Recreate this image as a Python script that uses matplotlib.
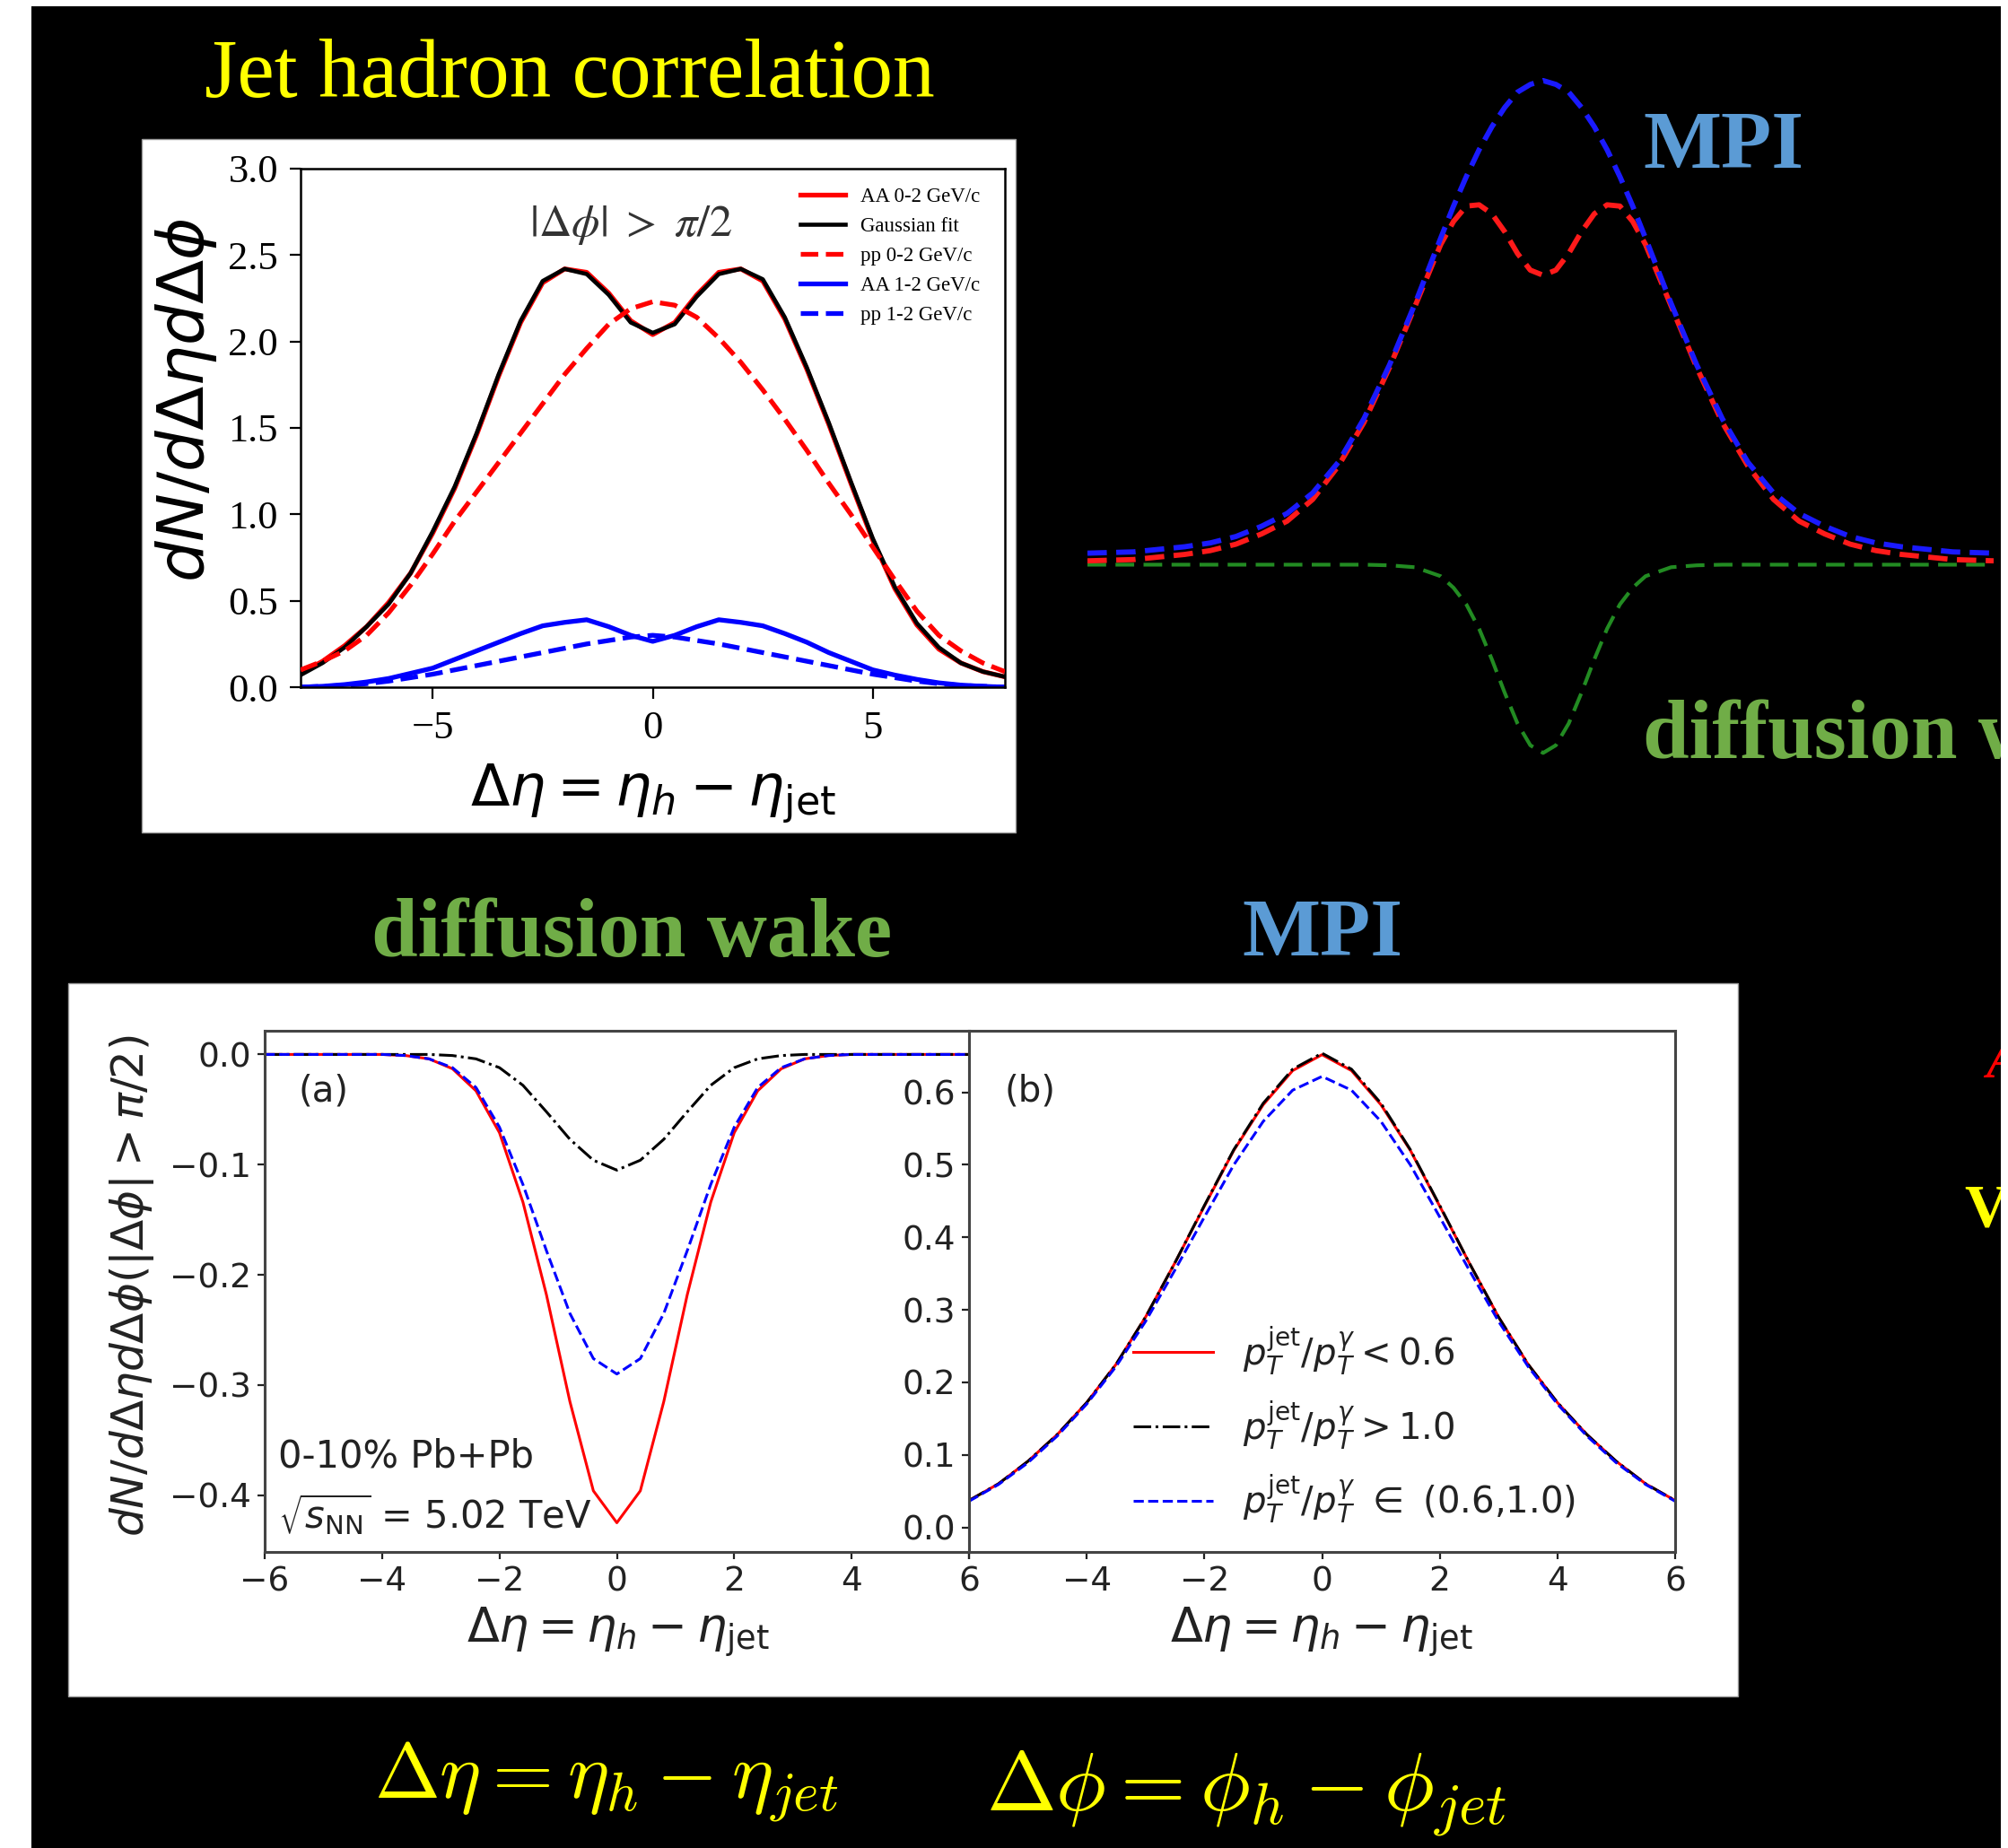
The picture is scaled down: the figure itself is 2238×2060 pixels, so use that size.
import matplotlib
matplotlib.use('Agg')
import matplotlib.pyplot as plt
from matplotlib.patches import Rectangle
from matplotlib.ticker import FuncFormatter

# ---------------- data ----------------
# top-left panel: jet-hadron correlation, |dphi| > pi/2
eta_top = [-8, -7.5, -7, -6.5, -6, -5.5, -5, -4.5, -4, -3.5, -3, -2.5, -2, -1.5, -1, -0.5,
           0, 0.5, 1, 1.5, 2, 2.5, 3, 3.5, 4, 4.5, 5, 5.5, 6, 6.5, 7, 7.5, 8]
aa_0_2 = [0.08, 0.15, 0.24, 0.35, 0.49, 0.66, 0.89, 1.15, 1.46, 1.80, 2.11, 2.34, 2.42, 2.40, 2.28, 2.12,
          2.04, 2.11, 2.27, 2.40, 2.42, 2.35, 2.13, 1.84, 1.52, 1.18, 0.85, 0.57, 0.36, 0.22, 0.14, 0.09, 0.06]
gauss_fit = [0.07, 0.14, 0.23, 0.35, 0.48, 0.66, 0.90, 1.16, 1.47, 1.81, 2.12, 2.35, 2.42, 2.39, 2.27, 2.11,
             2.05, 2.10, 2.26, 2.39, 2.42, 2.36, 2.14, 1.85, 1.53, 1.19, 0.86, 0.58, 0.37, 0.23, 0.14, 0.09, 0.06]
pp_0_2 = [0.10, 0.15, 0.21, 0.30, 0.43, 0.59, 0.77, 0.96, 1.13, 1.30, 1.47, 1.64, 1.81, 1.96, 2.10, 2.19,
          2.23, 2.21, 2.14, 2.02, 1.88, 1.72, 1.55, 1.37, 1.18, 1.00, 0.81, 0.62, 0.44, 0.30, 0.21, 0.14, 0.09]
aa_1_2 = [0.00, 0.005, 0.015, 0.03, 0.05, 0.08, 0.11, 0.16, 0.21, 0.26, 0.31, 0.355, 0.375, 0.39, 0.35, 0.30,
          0.265, 0.30, 0.35, 0.39, 0.375, 0.355, 0.31, 0.26, 0.20, 0.15, 0.10, 0.07, 0.045, 0.025, 0.012, 0.005, 0.0]
pp_1_2 = [0.0, 0.005, 0.01, 0.02, 0.035, 0.055, 0.075, 0.10, 0.125, 0.15, 0.175, 0.20, 0.225, 0.25, 0.27, 0.29,
          0.30, 0.29, 0.27, 0.25, 0.225, 0.20, 0.175, 0.15, 0.125, 0.10, 0.075, 0.055, 0.035, 0.02, 0.01, 0.005, 0.0]
top_legend = ['AA 0-2 GeV/c', 'Gaussian fit', 'pp 0-2 GeV/c', 'AA 1-2 GeV/c', 'pp 1-2 GeV/c']

# top-right sketch: MPI (blue), total (red), diffusion wake (green)
x_sketch = [-8.9, -8, -7, -6.5, -6, -5.5, -5, -4.5, -4, -3.5, -3, -2.5, -2, -1.75, -1.5, -1.25, -1, -0.75,
            -0.5, -0.25, 0, 0.25, 0.5, 0.75, 1, 1.25, 1.5, 1.75, 2, 2.5, 3, 3.5, 4, 4.5, 5, 5.5, 6, 6.5,
            7, 8, 8.8]
mpi_sketch = [0.09, 0.10, 0.14, 0.17, 0.22, 0.30, 0.40, 0.56, 0.80, 1.14, 1.56, 2.04, 2.55, 2.80, 3.03, 3.24,
              3.42, 3.57, 3.69, 3.75, 3.78, 3.75, 3.69, 3.57, 3.42, 3.24, 3.03, 2.80, 2.55, 2.04, 1.56, 1.14,
              0.80, 0.56, 0.40, 0.30, 0.22, 0.17, 0.14, 0.10, 0.09]
total_sketch = [0.03, 0.04, 0.08, 0.11, 0.16, 0.24, 0.34, 0.51, 0.77, 1.11, 1.54, 2.02, 2.50, 2.68, 2.80, 2.81,
                2.74, 2.60, 2.43, 2.30, 2.26, 2.30, 2.43, 2.60, 2.74, 2.81, 2.80, 2.68, 2.50, 2.02, 1.54, 1.11,
                0.77, 0.51, 0.34, 0.24, 0.16, 0.11, 0.08, 0.04, 0.03]
wake_sketch = [0, 0, 0, 0, 0, 0, 0, 0, 0, 0, -0.005, -0.02, -0.09, -0.18, -0.31, -0.50, -0.74, -1.00,
               -1.24, -1.41, -1.47, -1.41, -1.24, -1.00, -0.74, -0.50, -0.31, -0.18, -0.09, -0.02, -0.005, 0,
               0, 0, 0, 0, 0, 0, 0, 0, 0]

# bottom (a): diffusion wake
eta_a = [-6.0, -5.6, -5.2, -4.8, -4.4, -4.0, -3.6, -3.2, -2.8, -2.4, -2.0, -1.6, -1.2, -0.8, -0.4, 0.0,
         0.4, 0.8, 1.2, 1.6, 2.0, 2.4, 2.8, 3.2, 3.6, 4.0, 4.4, 4.8, 5.2, 5.6, 6.0]
wake_lt06 = [0, 0, 0, 0, 0, 0, -0.001, -0.004, -0.013, -0.033, -0.071, -0.134, -0.218, -0.315, -0.396, -0.425,
             -0.396, -0.315, -0.218, -0.134, -0.071, -0.033, -0.013, -0.004, -0.001, 0, 0, 0, 0, 0, 0]
wake_gt10 = [0, 0, 0, 0, 0, 0, 0, 0, -0.001, -0.004, -0.012, -0.028, -0.052, -0.077, -0.096, -0.105,
             -0.096, -0.077, -0.052, -0.028, -0.012, -0.004, -0.001, 0, 0, 0, 0, 0, 0, 0, 0]
wake_mid = [0, 0, 0, 0, 0, 0, -0.001, -0.004, -0.012, -0.030, -0.066, -0.118, -0.178, -0.235, -0.276, -0.290,
            -0.276, -0.235, -0.178, -0.118, -0.066, -0.030, -0.012, -0.004, -0.001, 0, 0, 0, 0, 0, 0]

# bottom (b): MPI
eta_b = [-6, -5.5, -5, -4.5, -4, -3.5, -3, -2.5, -2, -1.5, -1, -0.5, 0, 0.5, 1, 1.5, 2, 2.5, 3, 3.5, 4,
         4.5, 5, 5.5, 6]
mpi_lt06 = [0.037, 0.060, 0.091, 0.128, 0.172, 0.225, 0.290, 0.365, 0.443, 0.520, 0.583, 0.630, 0.652,
            0.630, 0.583, 0.520, 0.443, 0.365, 0.290, 0.225, 0.172, 0.128, 0.091, 0.060, 0.037]
mpi_gt10 = [0.037, 0.060, 0.091, 0.128, 0.172, 0.225, 0.290, 0.365, 0.444, 0.521, 0.585, 0.632, 0.654,
            0.632, 0.585, 0.521, 0.444, 0.365, 0.290, 0.225, 0.172, 0.128, 0.091, 0.060, 0.037]
mpi_mid = [0.036, 0.059, 0.089, 0.126, 0.170, 0.222, 0.284, 0.355, 0.428, 0.500, 0.560, 0.603, 0.622,
           0.603, 0.560, 0.500, 0.428, 0.355, 0.284, 0.222, 0.170, 0.126, 0.089, 0.059, 0.036]
bottom_legend = [r'$p_T^{\rm jet}/p_T^{\gamma} < 0.6$', r'$p_T^{\rm jet}/p_T^{\gamma} > 1.0$',
                 r'$p_T^{\rm jet}/p_T^{\gamma}\ \in$ (0.6,1.0)']

# ---------------- figure ----------------
W, H = 2238, 2060
fig = plt.figure(figsize=(W / 100, H / 100), dpi=100, facecolor='white')
renderer = fig.canvas.get_renderer()

SERIF = 'Liberation Serif'
YELLOW = '#FFFF00'
MPI_BLUE = '#5B9BD5'
WAKE_GREEN = '#70AD47'


def axes_px(l, t, r, b, **kw):
    return fig.add_axes([l / W, 1 - b / H, (r - l) / W, (b - t) / H], **kw)


def rect_px(l, t, r, b, fc, ec='none', lw=0.0, z=-10):
    fig.add_artist(Rectangle((l / W, 1 - b / H), (r - l) / W, (b - t) / H,
                             transform=fig.transFigure, facecolor=fc, edgecolor=ec,
                             linewidth=lw, zorder=z))


def text_px(x, y, s, **kw):
    return fig.text(x / W, 1 - y / H, s, **kw)


def fit(t, target, vertical=False):
    bb = t.get_window_extent(renderer)
    cur = bb.height if vertical else bb.width
    t.set_fontsize(t.get_fontsize() * target / cur)


# backgrounds
rect_px(35, 7, 2230, 2060, 'black', z=-10)
rect_px(158, 155, 1132, 928, 'white', ec='#999999', lw=1.0, z=-9)
rect_px(76, 1096, 1937, 1891, 'white', ec='#999999', lw=1.0, z=-9)
rect_px(2230, 0, 2238, 2060, 'white', z=50)

# slide texts
t = text_px(228, 108, 'Jet hadron correlation', color=YELLOW, family=SERIF, fontsize=60, va='baseline')
fit(t, 814)
t = text_px(1831, 187, 'MPI', color=MPI_BLUE, family=SERIF, weight='bold', fontsize=60, va='baseline')
fit(t, 179)
mpi_size = t.get_fontsize()
t = text_px(1384, 1065, 'MPI', color=MPI_BLUE, family=SERIF, weight='bold', fontsize=mpi_size, va='baseline')
t = text_px(414, 1066, 'diffusion wake', color=WAKE_GREEN, family=SERIF, weight='bold', fontsize=60,
            va='baseline')
fit(t, 581)
wake_size = t.get_fontsize()
text_px(1831, 845, 'diffusion wake', color=WAKE_GREEN, family=SERIF, weight='bold', fontsize=wake_size,
        va='baseline')
text_px(2213, 1201, 'A', color='#FF0000', family=SERIF, weight='bold', style='italic', fontsize=44,
        va='baseline')
text_px(2189, 1366, 'V', color=YELLOW, family=SERIF, weight='bold', fontsize=49, va='baseline')
t = text_px(417, 2005, r'$\Delta\eta = \eta_h - \eta_{jet}$', color=YELLOW, math_fontfamily='cm',
            fontsize=50, va='baseline')
fit(t, 518)
t = text_px(1099, 2019, r'$\Delta\phi = \phi_h - \phi_{jet}$', color=YELLOW, math_fontfamily='cm',
            fontsize=50, va='baseline')
fit(t, 581)

# ---------------- top-left panel ----------------
ax1 = axes_px(335, 188, 1120, 766)
ax1.plot(eta_top, aa_0_2, color='#FF0000', lw=3.8, label=top_legend[0], zorder=2)
ax1.plot(eta_top, gauss_fit, color='black', lw=3.3, label=top_legend[1], zorder=3)
ax1.plot(eta_top, pp_0_2, color='#FF0000', lw=3.8, ls='--', label=top_legend[2], zorder=4)
ax1.plot(eta_top, aa_1_2, color='#0000FF', lw=3.8, label=top_legend[3], zorder=2)
ax1.plot(eta_top, pp_1_2, color='#0000FF', lw=3.8, ls='--', label=top_legend[4], zorder=2)
ax1.set_xlim(-8, 8)
ax1.set_ylim(0, 3.0)
ax1.set_xticks([-5, 0, 5])
ax1.set_yticks([0, 0.5, 1.0, 1.5, 2.0, 2.5, 3.0])
ax1.yaxis.set_major_formatter(FuncFormatter(lambda v, p: f'{v:.1f}'))
ax1.xaxis.set_major_formatter(FuncFormatter(lambda v, p: f'{v:g}'.replace('-', '\u2212')))
ax1.tick_params(direction='out', length=9, width=1.6, labelsize=32, labelfontfamily=SERIF, color='black')
ax1.tick_params(axis='y', pad=9)
ax1.tick_params(axis='x', pad=10)
for s in ax1.spines.values():
    s.set_linewidth(1.8)
ax1.legend(loc='upper left', bbox_to_anchor=(892 / W, 1 - 209 / H), bbox_transform=fig.transFigure,
           frameon=False, borderpad=0, borderaxespad=0, handlelength=2.18, handletextpad=0.74,
           labelspacing=0.52, prop={'family': SERIF, 'size': 16.5})
t = text_px(703, 251, r'$|\Delta\phi|\ >\ \pi/2$', color='#333333', math_fontfamily='stix', fontsize=30,
            ha='center', va='center')
fit(t, 227)
t = text_px(207, 446, r'$dN/d\Delta\eta d\Delta\phi$', rotation=90, fontsize=40, ha='center', va='center')
fit(t, 407, vertical=True)
t = text_px(728, 885, r'$\Delta\eta = \eta_h - \eta_{\rm jet}$', fontsize=40, ha='center', va='center')
fit(t, 408)

# ---------------- right sketch ----------------
axr = axes_px(1212, 57, 2222, 885)
axr.plot(x_sketch, wake_sketch, color='#228B22', lw=3.0, dashes=(5, 2.5))
axr.plot(x_sketch, total_sketch, color='#FF1A1A', lw=4.2, dashes=(3.7, 1.8))
axr.plot(x_sketch, mpi_sketch, color='#1A1AFF', lw=4.2, dashes=(3.7, 1.8))
axr.set_xlim(-8.9, 8.8)
axr.set_ylim(-1.79, 4.01)
axr.axis('off')

# ---------------- bottom panels ----------------
TICKC = '#222222'
axa = axes_px(295, 1149, 1080, 1730)
axb = axes_px(1080, 1149, 1867, 1730)
axa.plot(eta_a, wake_lt06, color='#FF0000', lw=2.2)
axa.plot(eta_a, wake_gt10, color='black', lw=2.2, ls='-.')
axa.plot(eta_a, wake_mid, color='#0000FF', lw=2.2, ls='--')
axa.set_xlim(-6, 6)
axa.set_ylim(-0.4515, 0.0215)
axa.set_yticks([-0.4, -0.3, -0.2, -0.1, 0.0])
axb.plot(eta_b, mpi_lt06, color='#FF0000', lw=2.2, label=bottom_legend[0])
axb.plot(eta_b, mpi_gt10, color='black', lw=2.2, ls='-.', label=bottom_legend[1])
axb.plot(eta_b, mpi_mid, color='#0000FF', lw=2.2, ls='--', label=bottom_legend[2])
axb.set_xlim(-6, 6)
axb.set_ylim(-0.034, 0.685)
axb.set_yticks([0.0, 0.1, 0.2, 0.3, 0.4, 0.5, 0.6])
axb.xaxis.set_major_formatter(FuncFormatter(lambda v, p: '' if v <= -6 else f'{v:g}'.replace('-', '\u2212')))
for a in (axa, axb):
    a.set_xticks([-6, -4, -2, 0, 2, 4, 6])
    a.tick_params(direction='out', length=6, width=1.6, labelsize=27, colors=TICKC, pad=5)
    for s in a.spines.values():
        s.set_linewidth(2.2)
        s.set_color('#444444')
axa.text(0.048, 0.883, '(a)', transform=axa.transAxes, fontsize=29, color=TICKC, va='center')
axb.text(0.05, 0.883, '(b)', transform=axb.transAxes, fontsize=29, color=TICKC, va='center')
axa.text(0.019, 0.184, '0-10% Pb+Pb', transform=axa.transAxes, fontsize=30, color=TICKC, va='center')
axa.text(0.019, 0.072, r'$\sqrt{s_{\rm NN}}$ = 5.02 TeV', transform=axa.transAxes, fontsize=30,
         color=TICKC, va='center')
axb.legend(loc='center left', bbox_to_anchor=(0.2325, 0.244), frameon=False, borderpad=0,
           borderaxespad=0, handlelength=2.21, handletextpad=0.82, labelspacing=0.6, fontsize=29)
for lg_text in axb.get_legend().get_texts():
    lg_text.set_color(TICKC)
t = text_px(147, 1433, r'$dN/d\Delta\eta d\Delta\phi(|\Delta\phi|>\pi/2)$', rotation=90, fontsize=30,
            color=TICKC, ha='center', va='center')
fit(t, 560, vertical=True)
for cx in (689, 1473):
    t = text_px(cx, 1820, r'$\Delta\eta = \eta_h - \eta_{\rm jet}$', fontsize=30, color=TICKC,
                ha='center', va='center')
    fit(t, 338)

fig.savefig('out.png', dpi=100, facecolor=fig.get_facecolor())
